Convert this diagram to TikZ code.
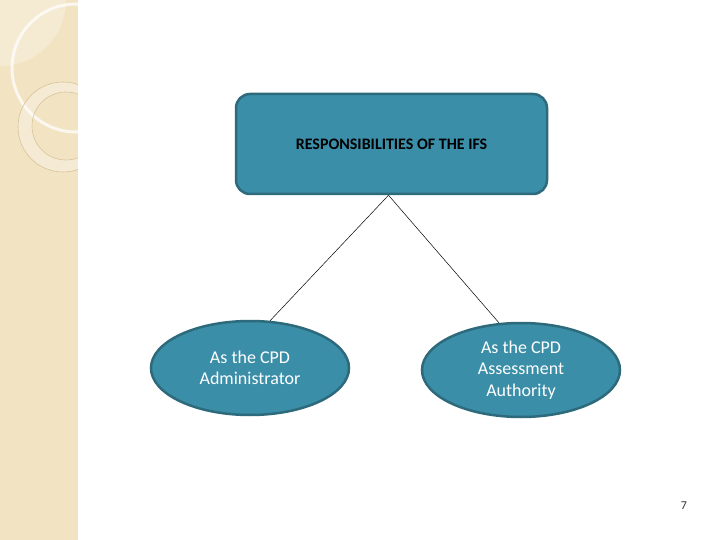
\documentclass[tikz,border=0pt]{standalone}
\usepackage{fontspec}
\setmainfont{Carlito}
\usetikzlibrary{shapes.geometric}

\definecolor{ifsteal}{HTML}{3A8EA8}
\definecolor{ifsedge}{HTML}{2D6A7C}
\definecolor{stripbg}{HTML}{F2E3C3}
\definecolor{ringline}{HTML}{D8C397}

\begin{document}
\begin{tikzpicture}[x=1pt, y=-1pt]

\tikzstyle{topbox}=[draw=ifsedge, line width=2.5pt, fill=ifsteal, rounded corners=14pt,
  minimum width=311pt, minimum height=100pt, font=\fontsize{16}{18}\selectfont\bfseries]
\tikzstyle{roleoval}=[ellipse, draw=ifsedge, line width=2.5pt, fill=ifsteal, text=white,
  minimum width=198pt, minimum height=94pt, align=center, inner sep=0pt,
  font=\fontsize{18}{21.5}\selectfont]

\useasboundingbox (0,0) rectangle (720,540);
\fill[white] (0,0) rectangle (720,540);

% side strip
\fill[stripbg] (0,0) rectangle (78,540);
\begin{scope}
\clip (0,0) rectangle (78,540);
\fill[white, opacity=0.25] (0,0) circle (66pt);
\draw[white, opacity=0.75, line width=3pt] (76,68) circle (64pt);
\fill[white, opacity=0.3, even odd rule] (63,127) circle (45pt) (66,126) circle (34pt);
\draw[ringline, line width=0.6pt] (63,127) circle (45pt);
\draw[ringline, line width=0.6pt] (66,126) circle (34pt);
\end{scope}

% boxes
\node[topbox] (ifs) at (391.5,144) {RESPONSIBILITIES OF THE IFS};
\node[roleoval] (admin) at (250,368) {As the CPD\\Administrator};
\node[roleoval] (assess) at (521,370) {As the CPD\\Assessment\\Authority};

\coordinate (split) at ([xshift=-3pt]ifs.south);
\draw[line width=0.5pt] (split) -- (admin.67);
\draw[line width=0.5pt] (split) -- (assess.115);

% page number
\node[font=\fontsize{12}{14}\selectfont, text=black!80] (pageno) at (684,506) {7};
\end{tikzpicture}
\end{document}
